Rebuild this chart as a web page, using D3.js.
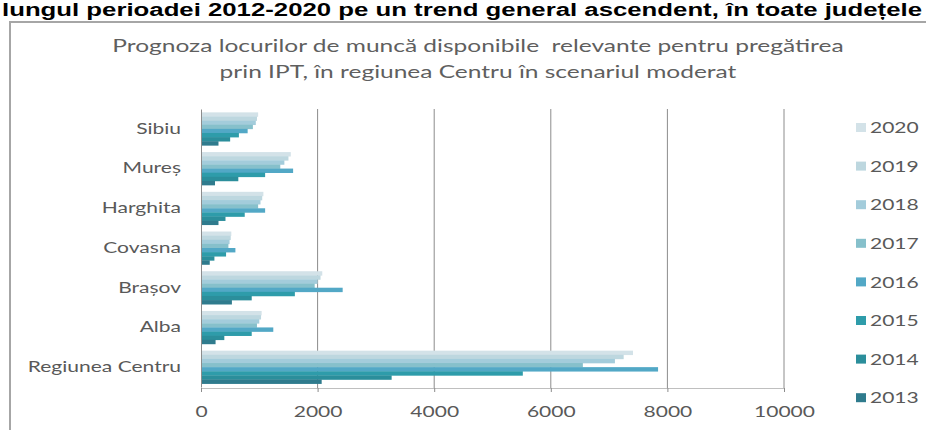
<!DOCTYPE html>
<html>
<head>
<meta charset="utf-8">
<script src="https://cdn.jsdelivr.net/npm/d3@7"></script>
<style>
  body { margin: 0; background: #fff; }
  svg { display: block; }
</style>
</head>
<body>
<div class="chart"></div>
<script>
var svgWidth = 926;
var svgHeight = 430;

// Data
var categories = ["Sibiu", "Mureș", "Harghita", "Covasna", "Brașov", "Alba", "Regiunea Centru"];
var years = ["2020", "2019", "2018", "2017", "2016", "2015", "2014", "2013"];
var xTicks = [0, 2000, 4000, 6000, 8000, 10000];

var v2013 = [300, 240, 300, 150, 530, 250, 2070];
var v2014 = [500, 640, 420, 230, 870, 400, 3270];
var v2015 = [650, 1100, 750, 430, 1610, 870, 5520];
var v2016 = [800, 1580, 1100, 590, 2430, 1240, 7840];
var v2017 = [890, 1360, 980, 470, 1950, 960, 6550];
var v2018 = [940, 1430, 1020, 490, 2000, 1000, 7100];
var v2019 = [960, 1500, 1050, 510, 2050, 1030, 7250];
var v2020 = [980, 1540, 1070, 520, 2080, 1040, 7410];

var seriesValues = {
  "2013": v2013, "2014": v2014, "2015": v2015, "2016": v2016,
  "2017": v2017, "2018": v2018, "2019": v2019, "2020": v2020
};

var colors = {
  "2020": "#d3e2e8",
  "2019": "#bdd7df",
  "2018": "#a3ccdb",
  "2017": "#86c0cb",
  "2016": "#52a8c6",
  "2015": "#2e9caa",
  "2014": "#2b8e9b",
  "2013": "#2f7b8d"
};

// the picture is stretched sideways, so widen every text
var stretch = 1.4;
function widen(sel, f) {
  sel.each(function () {
    var len = this.getComputedTextLength();
    d3.select(this)
      .attr("textLength", len * f)
      .attr("lengthAdjust", "spacingAndGlyphs");
  });
}

var svg = d3.select(".chart")
  .append("svg")
  .attr("width", svgWidth)
  .attr("height", svgHeight);

// heading text at the top of the picture
svg.append("text")
  .attr("x", 2)
  .attr("y", 16)
  .attr("font-family", "Liberation Sans, Arial, sans-serif")
  .attr("font-weight", "bold")
  .attr("font-size", 18)
  .attr("fill", "#000")
  .attr("textLength", 920)
  .attr("lengthAdjust", "spacingAndGlyphs")
  .text("lungul perioadei 2012-2020 pe un trend general ascendent, în toate județele");

// chart frame
svg.append("rect")
  .attr("x", 10)
  .attr("y", 22)
  .attr("width", 940)
  .attr("height", 440)
  .attr("fill", "#fff")
  .attr("stroke", "#a6a6a6")
  .attr("stroke-width", 2);

// title
var titleLines = ["Prognoza locurilor de muncă disponibile  relevante pentru pregătirea",
  "prin IPT, în regiunea Centru în scenariul moderat"];
svg.selectAll(".title")
  .data(titleLines)
  .enter()
  .append("text")
  .attr("class", "title")
  .attr("x", 478)
  .attr("y", (d, i) => 52 + i * 26)
  .attr("text-anchor", "middle")
  .attr("font-family", "Lato, sans-serif")
  .attr("font-size", 17.5)
  .attr("fill", "#5f5f5f")
  .style("white-space", "pre")
  .text(d => d)
  .call(widen, stretch);

// scales
var x = d3.scaleLinear().domain([0, 10000]).range([201, 784]);
var y = d3.scaleBand().domain(categories).range([109, 387]).paddingInner(0.17).paddingOuter(0.085);
var yInner = d3.scaleBand().domain(years).range([0, y.bandwidth()]);

var chartGroup = svg.append("g");

// gridlines
chartGroup.selectAll(".grid")
  .data(xTicks.slice(1))
  .enter()
  .append("line")
  .attr("x1", d => x(d))
  .attr("x2", d => x(d))
  .attr("y1", 109)
  .attr("y2", 388)
  .attr("stroke", "#8c8c8c")
  .attr("stroke-width", 1);

// bars
categories.forEach(function (cat, i) {
  chartGroup.selectAll(null)
    .data(years)
    .enter()
    .append("rect")
    .attr("x", x(0))
    .attr("y", yr => y(cat) + yInner(yr))
    .attr("width", yr => x(seriesValues[yr][i]) - x(0))
    .attr("height", yInner.bandwidth() + 0.3)
    .attr("fill", yr => colors[yr]);
});

// axes
var bottomAxis = d3.axisBottom(x).tickValues(xTicks).tickSize(4).tickFormat(d3.format("d"));
var xAxis = chartGroup.append("g")
  .attr("transform", "translate(0, 388)")
  .call(bottomAxis);
xAxis.select(".domain").attr("stroke", "#bfbfbf");
xAxis.selectAll(".tick line").attr("stroke", "#8c8c8c");
xAxis.selectAll("text")
  .attr("font-family", "Lato, sans-serif")
  .attr("font-size", 15)
  .attr("fill", "#595959")
  .attr("dy", "1.45em")
  .call(widen, stretch);

var leftAxis = d3.axisLeft(y).tickSize(0).tickPadding(20);
var yAxis = chartGroup.append("g")
  .attr("transform", `translate(${x(0)}, 0)`)
  .call(leftAxis);
yAxis.select(".domain").attr("stroke", "#8c8c8c");
yAxis.selectAll("text")
  .attr("font-family", "Lato, sans-serif")
  .attr("font-size", 15)
  .attr("fill", "#595959")
  .call(widen, stretch);

// legend
var legend = svg.append("g");
var legendItems = legend.selectAll("g")
  .data(years)
  .enter()
  .append("g")
  .attr("transform", (d, i) => `translate(856, ${128 + i * 38.6})`);
legendItems.append("rect")
  .attr("x", 0)
  .attr("y", -5)
  .attr("width", 10)
  .attr("height", 9)
  .attr("fill", d => colors[d]);
legendItems.append("text")
  .attr("x", 14)
  .attr("y", 0)
  .attr("dy", "0.35em")
  .attr("font-family", "Lato, sans-serif")
  .attr("font-size", 15)
  .attr("fill", "#595959")
  .text(d => d)
  .call(widen, stretch);
</script>
</body>
</html>
